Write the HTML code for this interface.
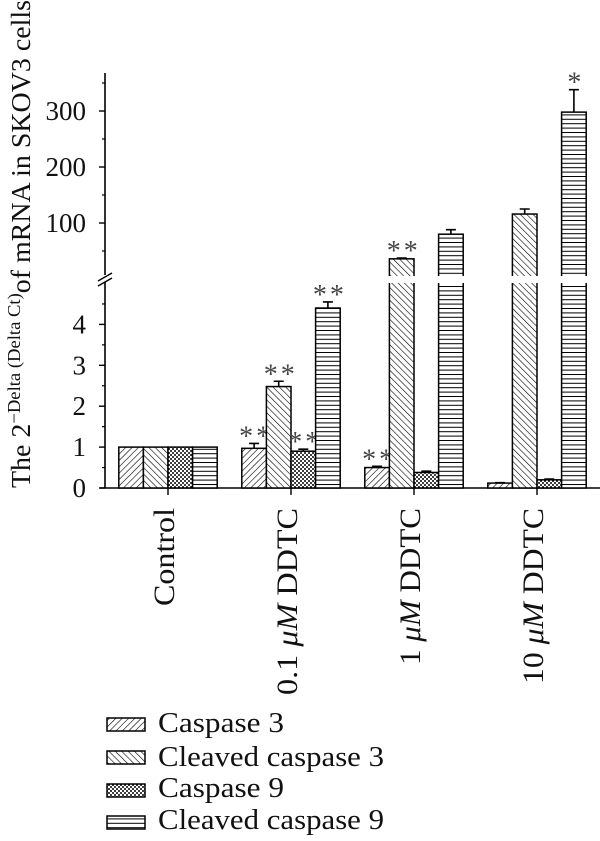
<!DOCTYPE html>
<html><head><meta charset="utf-8"><style>
html,body{margin:0;padding:0;background:#fff}
svg{display:block;font-family:"Liberation Serif",serif}
</style></head><body>
<svg id="chart" width="600" height="841" viewBox="0 0 600 841" xmlns="http://www.w3.org/2000/svg">
<defs>
<pattern id="p0" patternUnits="userSpaceOnUse" width="4.5" height="4.5" patternTransform="rotate(45)"><rect width="4.5" height="4.5" fill="#fff"/><line x1="0" y1="0" x2="0" y2="4.5" stroke="#000" stroke-width="1.2"/></pattern>
<pattern id="p1" patternUnits="userSpaceOnUse" width="4.5" height="4.5" patternTransform="rotate(-45)"><rect width="4.5" height="4.5" fill="#fff"/><line x1="0" y1="0" x2="0" y2="4.5" stroke="#000" stroke-width="1.2"/></pattern>
<pattern id="p2" patternUnits="userSpaceOnUse" width="4" height="4"><rect width="4" height="4" fill="#fff"/><circle cx="1" cy="1" r="1" fill="#000"/><circle cx="3" cy="3" r="1" fill="#000"/></pattern>
<pattern id="p3" patternUnits="userSpaceOnUse" width="6" height="4.4"><rect width="6" height="4.4" fill="#fff"/><line x1="0" y1="0.5" x2="6" y2="0.5" stroke="#000" stroke-width="1"/></pattern>
</defs>
<g id="plot"></g>
<text transform="translate(30,488) rotate(-90)" font-size="27" fill="#111" textLength="488" lengthAdjust="spacingAndGlyphs">The 2<tspan font-size="18" dy="-10">−Delta (Delta Ct)</tspan><tspan dy="10">of mRNA in SKOV3 cells</tspan></text>
<g font-size="29" fill="#111">
<g><rect x="107" y="718" width="38" height="13" fill="url(#p0)" stroke="#000" stroke-width="1.5"/><text x="158" y="732" textLength="126" lengthAdjust="spacingAndGlyphs">Caspase 3</text></g>
<g><rect x="107" y="751" width="38" height="13" fill="url(#p1)" stroke="#000" stroke-width="1.5"/><text x="158" y="766" textLength="226" lengthAdjust="spacingAndGlyphs">Cleaved caspase 3</text></g>
<g><rect x="107" y="784" width="38" height="13" fill="url(#p2)" stroke="#000" stroke-width="1.5"/><text x="158" y="797" textLength="126" lengthAdjust="spacingAndGlyphs">Caspase 9</text></g>
<g><rect x="107" y="816" width="38" height="13" fill="url(#p3)" stroke="#000" stroke-width="1.5"/><text x="158" y="829" textLength="226" lengthAdjust="spacingAndGlyphs">Cleaved caspase 9</text></g>
</g>
</svg>
<script>
const categories = ["Control", "0.1 μM DDTC", "1 μM DDTC", "10 μM DDTC"];
const labelLengths = [98, 187, 157, 176];
const seriesNames = ["Caspase 3", "Cleaved caspase 3", "Caspase 9", "Cleaved caspase 9"];
const caspase3 = [1, 0.97, 0.5, 0.12];
const cleavedCaspase3 = [1, 2.48, 36, 116];
const caspase9 = [1, 0.9, 0.38, 0.2];
const cleavedCaspase9 = [1, 4.4, 80, 298];
const err3 = [0, 0.12, 0.03, 0.01];
const errC3 = [0, 0.13, 1.5, 9];
const err9 = [0, 0.05, 0.03, 0.02];
const errC9 = [0, 0.15, 8, 40];
const stars3 = ["", "**", "**", ""];
const starsC3 = ["", "**", "**", ""];
const stars9 = ["", "**", "", ""];
const starsC9 = ["", "**", "", "*"];
const lowTicks = [0, 1, 2, 3, 4];
const highTicks = [100, 200, 300];

const NS = "http://www.w3.org/2000/svg";
const g = document.getElementById("plot");
const AX = 105, Y0 = 488, BREAK_Y = 279;
function yLow(v){ return Y0 - v * 40.9; }
function yHigh(v){ return 223 - (v - 100) * 0.56; }
function yScale(v){ return v <= 4.8 ? yLow(v) : yHigh(v); }
function xGroup(i){ return 168 + i * 123; }
function mk(tag, attrs){ const e = document.createElementNS(NS, tag); for (const k in attrs) e.setAttribute(k, attrs[k]); g.appendChild(e); return e; }

const series = [caspase3, cleavedCaspase3, caspase9, cleavedCaspase9];
const errs = [err3, errC3, err9, errC9];
const stars = [stars3, starsC3, stars9, starsC9];
const fills = ["url(#p0)", "url(#p1)", "url(#p2)", "url(#p3)"];
const BW = 24.6;

let e;
e = mk("line", {x1: AX, y1: 73, x2: AX, y2: 275, stroke: "#000", "stroke-width": 1.6});


e = mk("line", {x1: AX, y1: 282, x2: AX, y2: Y0, stroke: "#000", "stroke-width": 1.6});


e = mk("path", {d: `M${AX-7} ${BREAK_Y+2} L${AX+7} ${BREAK_Y-6} M${AX-7} ${BREAK_Y+7} L${AX+7} ${BREAK_Y-1}`, stroke: "#000", "stroke-width": 1.4, fill: "none"});


e = mk("line", {x1: 100, y1: Y0, x2: 600, y2: Y0, stroke: "#000", "stroke-width": 1.6});



lowTicks.forEach(t => {
  const y = yLow(t);
  e = mk("line", {x1: AX - 6, y1: y, x2: AX, y2: y, stroke: "#000", "stroke-width": 1.4});
  
  
  const m = yLow(t + 0.5);
  e = mk("line", {x1: AX - 3, y1: m, x2: AX, y2: m, stroke: "#000", "stroke-width": 1.2});
  
  
  e = mk("text", {x: 86, y: y + 9, "text-anchor": "end", "font-size": 27, fill: "#111"});
  e.textContent = t;
  
  
});
highTicks.forEach(t => {
  const y = yHigh(t);
  e = mk("line", {x1: AX - 6, y1: y, x2: AX, y2: y, stroke: "#000", "stroke-width": 1.4});
  
  
  e = mk("text", {x: 86, y: y + 9, "text-anchor": "end", "font-size": 27, fill: "#111"});
  e.textContent = t;
  
  
});
[50, 150, 250, 350].forEach(t => {
  const y = yHigh(t);
  e = mk("line", {x1: AX - 3, y1: y, x2: AX, y2: y, stroke: "#000", "stroke-width": 1.2});
  
  
});

categories.forEach((c, i) => {
  const x = xGroup(i);
  e = mk("line", {x1: x, y1: Y0, x2: x, y2: Y0 + 7, stroke: "#000", "stroke-width": 1.4});
  
  
  e = mk("text", {transform: `translate(${x + 6},${Y0 + 20}) rotate(-90)`, "text-anchor": "end", "font-size": 30, fill: "#111", textLength: labelLengths[i], lengthAdjust: "spacingAndGlyphs"});
  const parts = c.split("μM");
  if (parts.length === 2) {
    e.appendChild(document.createTextNode(parts[0]));
    const it = document.createElementNS(NS, "tspan");
    it.setAttribute("font-style", "italic");
    it.textContent = "μM";
    e.appendChild(it);
    e.appendChild(document.createTextNode(parts[1]));
  } else {
    e.textContent = c;
  }
  
  
  series.forEach((s, k) => {
    const v = s[i];
    const bx = x + (k - 2) * BW;
    const top = yScale(v);
    e = mk("rect", {x: bx, y: top, width: BW, height: Y0 - top, fill: fills[k], stroke: "#000", "stroke-width": 1.5});
    
    
    if (v > 4.8) {
      e = mk("rect", {x: bx - 2, y: BREAK_Y - 3, width: BW + 4, height: 7, fill: "#fff"});
      
      
    }
    const er = errs[k][i];
    let topY = top;
    if (er > 0) {
      const ey = yScale(v + er);
      e = mk("path", {d: `M${bx + BW/2} ${top} L${bx + BW/2} ${ey} M${bx + BW/2 - 5} ${ey} L${bx + BW/2 + 5} ${ey}`, stroke: "#000", "stroke-width": 1.6, fill: "none"});
      
      
      topY = ey;
    }
    const st = stars[k][i];
    if (st) {
      e = mk("text", {x: bx + BW/2 + 2, y: topY + 2, "text-anchor": "middle", "font-size": 28, fill: "#444", "letter-spacing": 3});
      e.textContent = st;
      
      
    }
  });
});
</script>
</body></html>
